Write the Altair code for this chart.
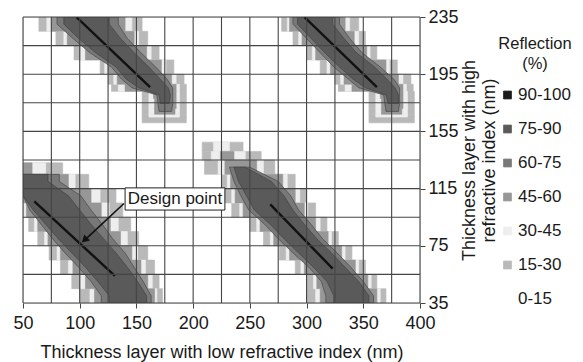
import altair as alt
import pandas as pd

FONT = "Liberation Sans"
INK = "#1a1a1a"

# Legend classes (top to bottom) and their grey shades
levels = ["90-100", "75-90", "60-75", "45-60", "30-45", "15-30", "0-15"]
level_colors = ["#1c1c1c", "#5a5a5a", "#787878", "#979797", "#eeeeee", "#b9b9b9", "#ffffff"]

# nested contour rings, outermost first
ring_levels = ["15-30", "30-45", "45-60", "60-75", "75-90"]

# Each row: (y_low, y_high, x-span of reflection >= 15, >= 30, >= 45, >= 60, >= 75)
band_lower_left = [
    (125, 133, [(50, 85), (50, 70), (50, 58), None, None]),
    (115, 125, [(50, 108), (50, 96), (50, 90), (50, 82), (50, 72)]),
    (105, 115, [(50, 132), (50, 118), (50, 110), (50, 101), (50, 90)]),
    (95, 105, [(50, 138), (51, 126), (53, 119), (56, 110), (59, 100)]),
    (85, 95, [(55, 145), (60, 134), (63, 127), (66, 120), (70, 110)]),
    (75, 85, [(63, 152), (69, 142), (72, 136), (76, 129), (81, 121)]),
    (65, 75, [(73, 160), (80, 151), (83, 146), (87, 140), (93, 132)]),
    (55, 65, [(83, 166), (90, 158), (94, 154), (99, 148), (105, 142)]),
    (45, 55, [(93, 170), (101, 164), (105, 160), (110, 156), (116, 151)]),
    (35, 45, [(100, 173), (109, 168), (113, 166), (119, 163), (126, 159)]),
]

band_lower_right = [
    (141, 147.5, [(208, 244), (218, 232), None, None, None]),
    (135, 141, [(208, 260), (216, 246), (224, 236), None, None]),
    (125, 135, [(210, 272), (222, 262), (228, 256), (232, 250), (236, 246)]),
    (115, 125, [(225, 290), (230, 283), (233, 279), (236, 275), (240, 269)]),
    (105, 115, [(227, 300), (234, 294), (237, 290), (242, 286), (247, 280)]),
    (95, 105, [(234, 308), (241, 301), (244, 298), (249, 293), (254, 288)]),
    (85, 95, [(250, 318), (256, 312), (259, 308), (263, 304), (268, 298)]),
    (75, 85, [(262, 328), (268, 322), (271, 319), (275, 314), (280, 309)]),
    (65, 75, [(276, 340), (282, 334), (285, 331), (288, 327), (293, 322)]),
    (55, 65, [(290, 352), (295, 346), (298, 343), (302, 339), (306, 334)]),
    (45, 55, [(300, 362), (306, 357), (309, 354), (313, 350), (318, 346)]),
    (35, 45, [(300, 370), (308, 365), (312, 362), (317, 359), (324, 355)]),
]

band_upper_left = [
    (225, 235, [(64, 155), (71, 146), (75, 140), (80, 134), (86, 126)]),
    (215, 225, [(79, 160), (86, 152), (89, 148), (94, 142), (99, 136)]),
    (205, 215, [(95, 170), (101, 163), (105, 159), (109, 154), (114, 148)]),
    (195, 205, [(118, 183), (122, 176), (125, 172), (128, 167), (132, 161)]),
    (188, 195, [(125, 192), (130, 185), (133, 181), (137, 177), (141, 171)]),
    (183, 188, [(128, 194), (134, 188), (140, 185), (146, 182), (152, 178)]),
    (178, 183, [(155, 194), (161, 188), (165, 185), (168, 182), (170, 180)]),
    (171, 178, [(155, 194), (161, 188), (166, 185), (169, 182), (171, 179)]),
    (167, 171, [(155, 194), (161, 188), (166, 184), (170, 181), None]),
    (165, 167, [(155, 194), (161, 188), None, None, None]),
    (161, 165, [(155, 194), None, None, None, None]),
]

band_upper_right = [
    (225, 235, [(278, 346), (283, 338), (285, 334), (288, 329), (292, 323)]),
    (215, 225, [(288, 352), (293, 346), (296, 342), (300, 338), (304, 333)]),
    (205, 215, [(300, 362), (305, 356), (308, 353), (312, 349), (316, 344)]),
    (195, 205, [(312, 380), (318, 373), (321, 370), (324, 365), (329, 360)]),
    (188, 195, [(325, 392), (330, 385), (333, 381), (337, 377), (341, 371)]),
    (183, 188, [(328, 394), (334, 388), (340, 385), (346, 382), (352, 378)]),
    (178, 183, [(355, 395), (361, 389), (365, 385), (368, 382), (370, 381)]),
    (171, 178, [(355, 395), (361, 389), (366, 385), (369, 382), (372, 381)]),
    (167, 171, [(355, 395), (361, 389), (366, 384), (370, 381), None]),
    (165, 167, [(355, 395), (361, 389), None, None, None]),
    (161, 165, [(355, 395), None, None, None, None]),
]
bands = {"A": band_lower_left, "B": band_lower_right, "C": band_upper_left, "D": band_upper_right}

# 90-100 % crests (thin black lines)
ridge_band = ["A", "A", "B", "B", "C", "C", "D", "D"]
ridge_x = [60, 131, 268, 323, 97, 162, 298, 362]
ridge_y = [106, 54, 104, 59, 235, 186, 235, 186]

grid_x = [50, 75, 100, 125, 150, 175, 200, 225, 250, 275, 300, 325, 350, 375, 400]
grid_y = [35, 55, 75, 95, 115, 135, 155, 175, 195, 215, 235]

# annotation
note_text = ["Design point"]
note_box_x = [140]
note_box_x2 = [228]
note_box_y = [100]
note_box_y2 = [115.5]
note_text_x = [184]
note_text_y = [107.8]
arrow_x = [139, 106.5]
arrow_y = [104.6, 80.6]
arrow_tip_x = [105]
arrow_tip_y = [79.6]

# ---------------------------------------------------------------- tables
# outer (stair-stepped) rings drawn as cells
cell_rows = []
for k in (0, 1, 2):
    for name, band in bands.items():
        for y0, y1, spans in band:
            span = spans[k]
            if span is not None:
                cell_rows.append({"x0": span[0], "x1": span[1], "y0": y0, "y1": y1,
                                  "Reflection": ring_levels[k]})
cells = pd.DataFrame(cell_rows)

# inner (smooth) rings drawn as areas through the row centres
def ring_area(k):
    out = []
    for name, band in bands.items():
        rows = [(y0, y1, s[k]) for (y0, y1, s) in band if s[k] is not None]
        for j, (y0, y1, span) in enumerate(rows):
            if j == 0 and (y1 >= 235 or span[0] <= 50):
                out.append({"band": name, "y": y1, "xa": span[0], "xb": span[1], "Reflection": ring_levels[k]})
            out.append({"band": name, "y": (y0 + y1) / 2, "xa": span[0], "xb": span[1], "Reflection": ring_levels[k]})
            if j == len(rows) - 1 and y0 <= 35:
                out.append({"band": name, "y": y0, "xa": span[0], "xb": span[1], "Reflection": ring_levels[k]})
    return pd.DataFrame(out)

ridges = pd.DataFrame({"band": ridge_band, "x": ridge_x, "y": ridge_y})
vgrid_df = pd.DataFrame({"g": grid_x})
hgrid_df = pd.DataFrame({"g": grid_y})
box_df = pd.DataFrame({"x": note_box_x, "x2": note_box_x2, "y": note_box_y, "y2": note_box_y2})
text_df = pd.DataFrame({"x": note_text_x, "y": note_text_y, "t": note_text})
arrow_df = pd.DataFrame({"x": arrow_x, "y": arrow_y})
tip_df = pd.DataFrame({"x": arrow_tip_x, "y": arrow_tip_y})

xs = alt.Scale(domain=[50, 400], nice=False, zero=False)
ys = alt.Scale(domain=[35, 235], nice=False, zero=False)
cscale = alt.Scale(domain=levels, range=level_colors)

x_axis = alt.Axis(
    values=grid_x, format="d",
    labelExpr="datum.value % 50 === 0 ? datum.label : ''",
    grid=False, domain=False, ticks=True, tickSize=5, tickColor="#444", tickWidth=1,
    labelFont=FONT, labelFontSize=18, labelColor=INK, labelPadding=6,
    labelFlush=False, labelOverlap=False,
    title="Thickness layer with low refractive index (nm)",
    titleFont=FONT, titleFontSize=18, titleFontWeight="normal", titleColor=INK,
    titleX=198.5, titleY=54, titleAlign="center", titleBaseline="alphabetic",
)
y_axis = alt.Axis(
    orient="right", values=grid_y, format="d",
    labelExpr="(datum.value - 35) % 40 === 0 ? datum.label : ''",
    grid=False, domain=False, ticks=True, tickSize=5, tickColor="#444", tickWidth=1,
    labelFont=FONT, labelFontSize=18, labelColor=INK, labelPadding=3,
    labelFlush=False, labelOverlap=False,
    title=["Thickness layer with high", "refractive index (nm)"],
    titleFont=FONT, titleFontSize=18, titleFontWeight="normal", titleColor=INK,
    titleAngle=270, titleX=54, titleY=143, titleAlign="center",
    titleBaseline="alphabetic", titleLineHeight=20,
)

legend = alt.Legend(
    title=["Reflection", "(%)"], orient="none", legendX=475, legendY=19,
    titleFont=FONT, titleFontSize=16.5, titleFontWeight="normal", titleColor=INK,
    titleAlign="center", titleAnchor="middle", titleLineHeight=20, titlePadding=14,
    labelFont=FONT, labelFontSize=17, labelColor=INK, labelOffset=2,
    symbolType="square", symbolSize=62, symbolStrokeColor="#444", symbolStrokeWidth=0.8,
    rowPadding=16, padding=0,
)

rects = alt.Chart(cells).mark_rect(strokeWidth=0.6, clip=True).encode(
    x=alt.X("x0:Q", scale=xs, axis=x_axis),
    x2="x1:Q",
    y=alt.Y("y0:Q", scale=ys, axis=y_axis),
    y2="y1:Q",
    color=alt.Color("Reflection:N", scale=cscale, legend=legend),
    stroke=alt.Stroke("Reflection:N", scale=cscale, legend=None),
)

areas = [
    alt.Chart(ring_area(k)).mark_area(orient="horizontal", interpolate="linear", clip=True,
                                      stroke="#3c3c3c", strokeWidth=0.6).encode(
        y=alt.Y("y:Q", scale=ys),
        x=alt.X("xa:Q", scale=xs, stack=None),
        x2="xb:Q",
        detail="band:N",
        color=alt.Color("Reflection:N", scale=cscale),
    )
    for k in (3, 4)
]

crest = alt.Chart(ridges).mark_line(color="#111111", strokeWidth=2.4, clip=True).encode(
    x=alt.X("x:Q", scale=xs),
    y=alt.Y("y:Q", scale=ys),
    detail="band:N",
)

vgrid = alt.Chart(vgrid_df).mark_rule(color="#454545", strokeWidth=1.1).encode(
    x=alt.X("g:Q", scale=xs)
)
hgrid = alt.Chart(hgrid_df).mark_rule(color="#454545", strokeWidth=1.1).encode(
    y=alt.Y("g:Q", scale=ys)
)

box = alt.Chart(box_df).mark_rect(fill="white", stroke="#222222", strokeWidth=1).encode(
    x=alt.X("x:Q", scale=xs), x2="x2:Q",
    y=alt.Y("y:Q", scale=ys), y2="y2:Q",
)
label = alt.Chart(text_df).mark_text(font=FONT, fontSize=17, color=INK).encode(
    x=alt.X("x:Q", scale=xs),
    y=alt.Y("y:Q", scale=ys),
    text="t:N",
)
arrow = alt.Chart(arrow_df).mark_line(color="#111111", strokeWidth=1.6).encode(
    x=alt.X("x:Q", scale=xs),
    y=alt.Y("y:Q", scale=ys),
)
tip = alt.Chart(tip_df).mark_point(shape="triangle", angle=226, filled=True, size=70,
                                   color="#111111", opacity=1).encode(
    x=alt.X("x:Q", scale=xs),
    y=alt.Y("y:Q", scale=ys),
)

chart = alt.layer(rects, *areas, crest, vgrid, hgrid, box, label, arrow, tip).properties(
    width=397, height=286,
    padding={"left": 15, "top": 9, "right": 155, "bottom": 60},
    autosize=alt.AutoSizeParams(type="none"),
).configure_view(stroke=None).configure(font=FONT, background="white")

chart.save("out.html", embed_options={"renderer": "svg", "actions": False})
